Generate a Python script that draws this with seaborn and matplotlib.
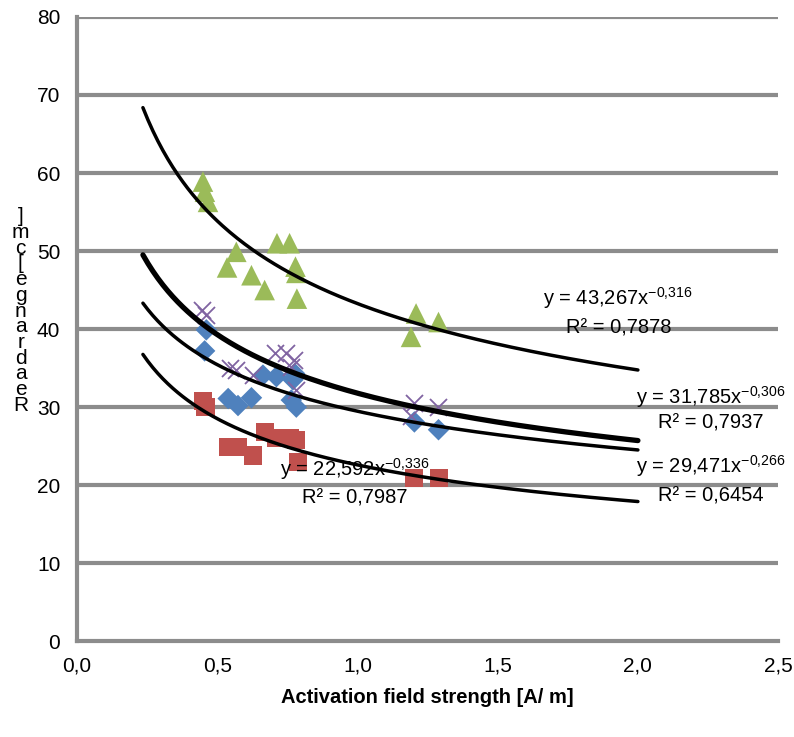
import numpy as np
import pandas as pd
import matplotlib
matplotlib.use("Agg")
import matplotlib.pyplot as plt
import seaborn as sns

# measured points per series (x = activation field strength, y = read range)
blue_x = [0.455, 0.461, 0.539, 0.574, 0.622, 0.663, 0.711, 0.770, 0.776, 0.764, 0.782, 1.203, 1.289]
blue_y = [37.2, 39.9, 31.1, 30.2, 31.2, 34.1, 33.9, 33.5, 34.3, 30.9, 30.0, 28.1, 27.1]

red_x = [0.450, 0.458, 0.539, 0.574, 0.627, 0.669, 0.711, 0.758, 0.782, 0.788, 1.203, 1.292]
red_y = [30.8, 30.0, 24.9, 24.9, 23.8, 26.8, 26.0, 26.0, 25.8, 23.0, 20.9, 20.9]

green_x = [0.449, 0.456, 0.467, 0.535, 0.568, 0.622, 0.669, 0.713, 0.758, 0.779, 0.782, 0.784, 1.191, 1.209, 1.289]
green_y = [58.9, 57.6, 56.3, 47.9, 49.9, 46.9, 45.0, 51.0, 51.0, 48.0, 47.2, 43.9, 39.0, 42.0, 40.9]

purple_x = [0.445, 0.460, 0.544, 0.568, 0.627, 0.705, 0.746, 0.764, 0.775, 0.782, 1.190, 1.203, 1.286]
purple_y = [42.5, 41.8, 35.0, 34.7, 34.1, 36.9, 36.9, 35.2, 36.0, 32.2, 28.8, 30.5, 30.0]

# power trend lines y = a * x^b
trend_a = [43.267, 31.785, 29.471, 22.592]
trend_b = [-0.316, -0.306, -0.266, -0.336]
trend_r2 = ["0,7878", "0,7937", "0,6454", "0,7987"]
trend_lw = [2.5, 3.8, 2.5, 2.5]

x_ticks = [0.0, 0.5, 1.0, 1.5, 2.0, 2.5]
y_ticks = [0, 10, 20, 30, 40, 50, 60, 70, 80]

sns.set_style("white")
plt.rcParams['font.family'] = ['Liberation Sans', 'DejaVu Sans']
plt.rcParams['mathtext.fontset'] = 'custom'
plt.rcParams['mathtext.rm'] = 'Liberation Sans'
plt.rcParams['text.color'] = 'black'
plt.rcParams['axes.labelcolor'] = 'black'
plt.rcParams['xtick.labelcolor'] = 'black'
plt.rcParams['ytick.labelcolor'] = 'black'

fig = plt.figure(figsize=(7.94, 7.37), dpi=100)
ax = fig.add_axes([0.097, 0.130, 0.883, 0.847])

grid_col = '#8c8c8c'
for yv in y_ticks[1:]:
    ax.axhline(yv, color=grid_col, lw=3, zorder=0)

# trend lines
xs = np.linspace(0.235, 2.0, 200)
for a, b, lw in zip(trend_a, trend_b, trend_lw):
    sns.lineplot(x=xs, y=a * xs ** b, color='black', lw=lw, ax=ax, zorder=3)

# scatter series
sns.scatterplot(x=blue_x, y=blue_y, marker='D', s=120, color='#4F81BD', edgecolor='none', ax=ax, zorder=2)
sns.scatterplot(x=red_x, y=red_y, marker='s', s=170, color='#C0504D', edgecolor='none', ax=ax, zorder=2)
sns.scatterplot(x=green_x, y=green_y, marker='^', s=220, color='#9BBB59', edgecolor='none', ax=ax, zorder=2)
sns.scatterplot(x=purple_x, y=purple_y, marker='x', s=150, color='#8064A2', linewidth=1.3, ax=ax, zorder=2)

# equation labels
def fmt(v):
    return f"{v:.3f}".replace('.', ',')

label_pos = [(1.93, 44.0, 40.2), (2.26, 31.3, 28.0), (2.26, 22.5, 18.6), (0.99, 22.0, 18.3)]
for (lx, ly1, ly2), a, b, r2 in zip(label_pos, trend_a, trend_b, trend_r2):
    ax.text(lx, ly1, "y = " + fmt(a) + "x$^{\\mathregular{" + fmt(b).replace(',', '{,}') + "}}$",
            ha='center', va='center', fontsize=14.5, zorder=5)
    ax.text(lx, ly2, "R² = " + r2, ha='center', va='center', fontsize=14.5, zorder=5)

ax.set_xlim(0, 2.5)
ax.set_ylim(0, 80)
ax.set_xticks(x_ticks)
ax.set_xticklabels([f"{v:.1f}".replace('.', ',') for v in x_ticks], fontsize=15)
ax.set_yticks(y_ticks)
ax.set_yticklabels([str(v) for v in y_ticks], fontsize=15)
ax.tick_params(axis='both', direction='out', length=7, width=2.5, color=grid_col, pad=5)
ax.tick_params(axis='x', pad=4)

for side in ['top', 'right']:
    ax.spines[side].set_visible(False)
for side in ['left', 'bottom']:
    ax.spines[side].set_color(grid_col)
    ax.spines[side].set_linewidth(3)

ax.set_xlabel("Activation field strength [A/ m]", fontsize=14.5, fontweight='bold', labelpad=9)

# y label drawn as stacked letters
ylab = "Read range [cm]".replace(' ', '')
fig.text(0.026, 0.578, "\n".join(ylab[::-1]), ha='center', va='center',
         fontsize=15, linespacing=0.78)

fig.savefig("out.png", dpi=100)
